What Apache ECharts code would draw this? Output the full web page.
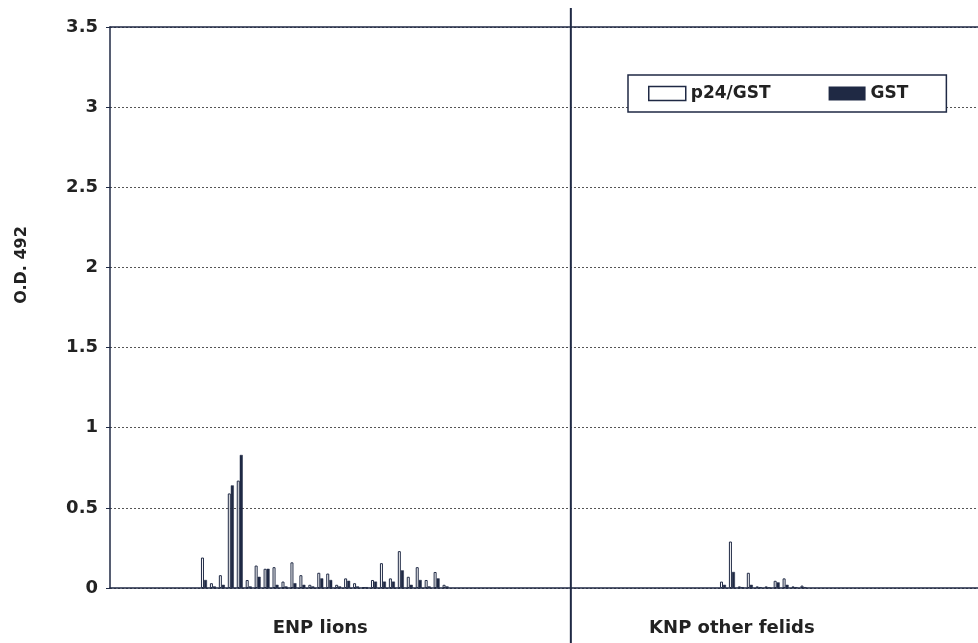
<!DOCTYPE html>
<html>
<head>
<meta charset="utf-8">
<script src="https://cdn.jsdelivr.net/npm/echarts@6/dist/echarts.min.js"></script>
<style>
html,body{margin:0;padding:0;background:#fff;}
#chart{width:978px;height:643px;}
</style>
</head>
<body>
<div id="chart"></div>
<script>
// ---- data ----
const groupLabels = ['ENP lions', 'KNP other felids'];
const seriesNames = ['p24/GST', 'GST'];
// ENP lions: p24/GST and GST O.D. 492 per sample
const enpP24 = [0.19, 0.03, 0.08, 0.59, 0.67, 0.05, 0.14, 0.12, 0.13, 0.04, 0.16, 0.08, 0.02, 0.095,
                0.09, 0.02, 0.06, 0.03, 0.005, 0.05, 0.155, 0.06, 0.23, 0.07, 0.13, 0.05, 0.10, 0.02];
const enpGST = [0.05, 0.01, 0.02, 0.64, 0.83, 0.01, 0.07, 0.12, 0.02, 0.01, 0.03, 0.02, 0.01, 0.06,
                0.05, 0.01, 0.045, 0.01, 0.005, 0.04, 0.04, 0.04, 0.11, 0.02, 0.05, 0.01, 0.06, 0.01];
// KNP other felids
const knpP24 = [0.04, 0.29, 0.01, 0.095, 0.01, 0.01, 0.045, 0.06, 0.01, 0.015];
const knpGST = [0.02, 0.10, 0.005, 0.02, 0.005, 0.003, 0.035, 0.02, 0.005, 0.005];
// layout of sample slots along the category axis
const leadSlots = 10, dividerSlot = 51, knpStart = 68, totalSlots = 97;
const enpLabelSlot = 23, knpLabelSlot = 69;
const yMin = 0, yMax = 3.5, yStep = 0.5;

// ---- build category axis ----
const cats = [];
const p24 = [], gst = [];
for (let i = 0; i < totalSlots; i++) {
  let name = '';
  if (i === enpLabelSlot) name = groupLabels[0];
  if (i === knpLabelSlot) name = groupLabels[1];
  cats.push(name);
  p24.push('-'); gst.push('-');
}
enpP24.forEach((v, k) => { p24[leadSlots + k] = v; gst[leadSlots + k] = enpGST[k]; });
knpP24.forEach((v, k) => { p24[knpStart + k] = v; gst[knpStart + k] = knpGST[k]; });

const dark = '#1f2944';
const font = '"DejaVu Sans", Arial, sans-serif';

const chart = echarts.init(document.getElementById('chart'), null, {renderer: 'canvas'});
const option = {
  backgroundColor: '#fff',
  animation: false,
  grid: {left: 110, right: 0, top: 27, bottom: 55, show: false},
  legend: {
    left: 628, top: 75,
    padding: [10, 38, 10, 20],
    itemWidth: 37, itemHeight: 14, itemGap: 58,
    backgroundColor: '#fff', borderColor: dark, borderWidth: 1.5, borderRadius: 0,
    textStyle: {fontFamily: font, fontWeight: 'bold', fontSize: 17, color: '#222'},
    data: [
      {name: seriesNames[0], icon: 'rect', itemStyle: {color: '#fff', borderColor: dark, borderWidth: 1.5}},
      {name: seriesNames[1], icon: 'rect', itemStyle: {color: dark, borderColor: dark, borderWidth: 0}}
    ]
  },
  xAxis: [{
    type: 'category', data: cats,
    axisLine: {lineStyle: {color: dark, width: 1.5}},
    axisTick: {show: false},
    axisLabel: {interval: 0, margin: 31, fontFamily: font, fontWeight: 'bold', fontSize: 18, color: '#222'},
    splitLine: {show: false}
  }, {
    type: 'category', data: cats, position: 'top',
    axisLine: {show: true, lineStyle: {color: dark, width: 1.5}},
    axisTick: {show: false}, axisLabel: {show: false}, splitLine: {show: false}
  }],
  yAxis: {
    type: 'value', min: yMin, max: yMax, interval: yStep,
    axisLine: {show: true, lineStyle: {color: dark, width: 1.5}},
    axisTick: {show: true, length: 4, lineStyle: {color: dark}},
    axisLabel: {margin: 12, fontFamily: font, fontWeight: 'bold', fontSize: 18, color: '#222'},
    splitLine: {show: true, lineStyle: {color: '#555', type: [2, 2], width: 1}}
  },
  series: [
    {name: seriesNames[0], type: 'bar', data: p24, barWidth: 3, barGap: '0%',
     itemStyle: {color: '#fff', borderColor: dark, borderWidth: 1}},
    {name: seriesNames[1], type: 'bar', data: gst, barWidth: 3, barGap: '0%',
     itemStyle: {color: dark, borderColor: dark, borderWidth: 0.5}}
  ]
};
chart.setOption(option);

// divider between the two groups, placed from the category scale
const xDiv = chart.convertToPixel({xAxisIndex: 0}, dividerSlot);
chart.setOption({
  graphic: [
    {type: 'line', shape: {x1: xDiv, y1: 8, x2: xDiv, y2: 643}, style: {stroke: dark, lineWidth: 2}, z: 10},
    {type: 'text', x: 22, y: 265, rotation: Math.PI / 2,
     style: {text: 'O.D. 492', fontFamily: font, fontWeight: 'bold', fontSize: 16, fill: '#222', textAlign: 'center', textVerticalAlign: 'middle'}}
  ]
});
</script>
</body>
</html>
